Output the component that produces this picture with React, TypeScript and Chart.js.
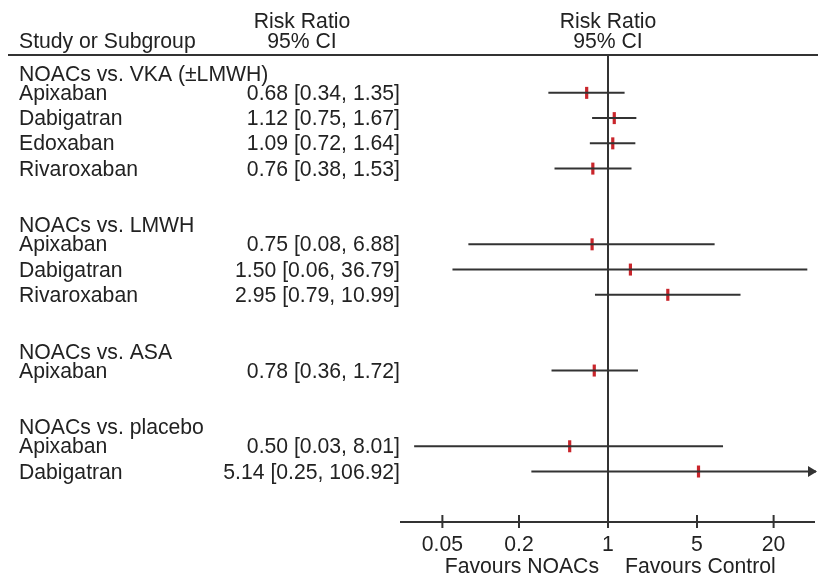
import React, { useEffect, useRef } from "react";
import { Chart, registerables } from "chart.js";

Chart.register(...registerables);

const groupLabels = ["NOACs vs. VKA (±LMWH)", "NOACs vs. LMWH", "NOACs vs. ASA", "NOACs vs. placebo"];
const studyNames = ["Apixaban", "Dabigatran", "Edoxaban", "Rivaroxaban", "Apixaban", "Dabigatran", "Rivaroxaban", "Apixaban", "Apixaban", "Dabigatran"];
const studyGroup = [0, 0, 0, 0, 1, 1, 1, 2, 3, 3];
const riskRatio = [0.68, 1.12, 1.09, 0.76, 0.75, 1.5, 2.95, 0.78, 0.5, 5.14];
const ciLower = [0.34, 0.75, 0.72, 0.38, 0.08, 0.06, 0.79, 0.36, 0.03, 0.25];
const ciUpper = [1.35, 1.67, 1.64, 1.53, 6.88, 36.79, 10.99, 1.72, 8.01, 106.92];
const tickValues = [0.05, 0.2, 1, 5, 20];
const tickLabels = ["0.05", "0.2", "1", "5", "20"];
const favoursLeft = "Favours NOACs";
const favoursRight = "Favours Control";

const FONT = '21.2px "Liberation Sans", Arial, Helvetica, sans-serif';
const TEXT = "#222222";
const LINE = "#333333";
const RED = "#c9252b";

export default function App() {
  const ref = useRef<HTMLCanvasElement | null>(null);

  useEffect(() => {
    if (!ref.current) return;
    const headerRows: number[] = [];
    const studyRows: number[] = [];
    let r = 0;
    groupLabels.forEach((_, g) => {
      headerRows.push(r);
      r++;
      studyGroup.forEach((sg, i) => {
        if (sg === g) {
          studyRows[i] = r;
          r++;
        }
      });
      r++;
    });

    const ciSets = studyNames.map((_, i) => ({
      type: "scatter" as const,
      data: [
        { x: ciLower[i], y: studyRows[i] },
        { x: ciUpper[i], y: studyRows[i] },
      ],
      showLine: true,
      borderColor: LINE,
      borderWidth: 2,
      pointRadius: 0,
      pointHoverRadius: 0,
    }));
    const estSet = {
      type: "scatter" as const,
      data: riskRatio.map((v, i) => ({ x: v, y: studyRows[i] })),
      showLine: false,
      pointStyle: "line" as const,
      rotation: 90,
      pointRadius: 6,
      pointHoverRadius: 6,
      borderWidth: 3.2,
      borderColor: RED,
      backgroundColor: RED,
    };

    const forestPlugin = {
      id: "forest",
      beforeDatasetsDraw(chart: any) {
        const { ctx, chartArea, scales } = chart;
        const x1 = scales.x.getPixelForValue(1);
        ctx.save();
        ctx.strokeStyle = LINE;
        ctx.lineWidth = 2;
        ctx.beginPath();
        ctx.moveTo(x1, chartArea.top);
        ctx.lineTo(x1, chartArea.bottom);
        ctx.stroke();
        ctx.restore();
      },
      afterDraw(chart: any) {
        const { ctx, chartArea, scales } = chart;
        const xs = scales.x;
        const ys = scales.y;
        const x1 = xs.getPixelForValue(1);
        ctx.save();
        ctx.strokeStyle = LINE;
        ctx.lineWidth = 2;
        ctx.beginPath();
        ctx.moveTo(8, chartArea.top);
        ctx.lineTo(chart.width, chartArea.top);
        ctx.stroke();
        ctx.beginPath();
        ctx.moveTo(chartArea.left, chartArea.bottom);
        ctx.lineTo(chartArea.right - 1, chartArea.bottom);
        ctx.stroke();
        tickValues.forEach((v) => {
          const px = xs.getPixelForValue(v);
          ctx.beginPath();
          ctx.moveTo(px, chartArea.bottom - 7);
          ctx.lineTo(px, chartArea.bottom + 6);
          ctx.stroke();
        });
        ctx.font = FONT;
        ctx.fillStyle = TEXT;
        ctx.textBaseline = "alphabetic";
        ctx.textAlign = "center";
        tickValues.forEach((v, i) => {
          ctx.fillText(tickLabels[i], xs.getPixelForValue(v), chartArea.bottom + 29);
        });
        ctx.textAlign = "right";
        ctx.fillText(favoursLeft, x1 - 9, chartArea.bottom + 50.5);
        ctx.textAlign = "left";
        ctx.fillText(favoursRight, x1 + 17, chartArea.bottom + 50.5);

        ctx.textAlign = "left";
        ctx.fillText("Study or Subgroup", 19, 47.5);
        ctx.textAlign = "center";
        ctx.fillText("Risk Ratio", 302, 27.5);
        ctx.fillText("95% CI", 302, 47.5);
        ctx.fillText("Risk Ratio", x1, 27.5);
        ctx.fillText("95% CI", x1, 47.5);

        ctx.textAlign = "left";
        groupLabels.forEach((g, gi) => {
          const y = ys.getPixelForValue(headerRows[gi] + 0.25);
          ctx.fillText(g, 19, y + 7);
        });
        studyNames.forEach((n, i) => {
          const y = ys.getPixelForValue(studyRows[i]);
          ctx.textAlign = "left";
          ctx.fillText(n, 19, y + 7);
          ctx.textAlign = "right";
          ctx.fillText(
            `${riskRatio[i].toFixed(2)} [${ciLower[i].toFixed(2)}, ${ciUpper[i].toFixed(2)}]`,
            400,
            y + 7
          );
          if (ciUpper[i] > xs.max) {
            const tip = chartArea.right + 1;
            ctx.fillStyle = LINE;
            ctx.beginPath();
            ctx.moveTo(tip, y);
            ctx.lineTo(tip - 9, y - 5.5);
            ctx.lineTo(tip - 9, y + 5.5);
            ctx.closePath();
            ctx.fill();
            ctx.fillStyle = TEXT;
          }
        });
        ctx.restore();
      },
    };

    const chart = new Chart(ref.current, {
      type: "scatter",
      data: { datasets: [...ciSets, estSet] as any },
      options: {
        responsive: false,
        animation: false,
        events: [],
        layout: { autoPadding: false, padding: { left: 400, right: 2, top: 55, bottom: 63 } },
        scales: {
          x: { type: "logarithmic", min: Math.pow(10, -1.634), max: Math.pow(10, 1.634), display: false },
          y: { type: "linear", min: -0.5, max: 18, reverse: true, display: false },
        },
        plugins: { legend: { display: false }, tooltip: { enabled: false } },
      },
      plugins: [forestPlugin],
    });
    return () => chart.destroy();
  }, []);

  return (
    <div style={{ position: "fixed", left: 0, top: 0, width: 818, height: 585, background: "#fff" }}>
      <canvas ref={ref} width={818} height={585} style={{ display: "block" }} />
    </div>
  );
}
